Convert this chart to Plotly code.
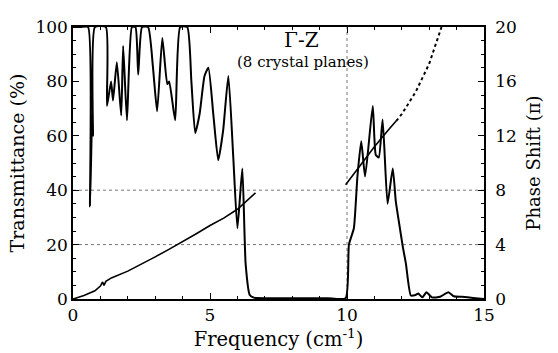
import plotly.graph_objects as go

# Transmittance (%) vs frequency (cm^-1)
freq = [0.0, 0.3, 0.55, 0.62, 0.70, 0.73, 0.80, 1.20, 1.24, 1.39, 1.46, 1.60, 1.76, 1.83,
        1.97, 2.15, 2.28, 2.38, 2.52, 2.74, 2.92, 3.07, 3.26, 3.44, 3.51, 3.73, 3.91, 4.17,
        4.32, 4.46, 4.62, 4.80, 4.94, 5.12, 5.30, 5.48, 5.67, 5.85, 6.00, 6.18, 6.30, 6.45,
        6.60, 7.50, 8.50, 9.30, 9.95, 10.07,
        10.25, 10.38, 10.52, 10.66, 10.94, 11.05, 11.16, 11.30, 11.48, 11.67, 11.78, 11.90,
        12.04, 12.15, 12.33, 12.50, 12.60, 12.75, 12.90, 13.10, 13.40, 13.70, 13.90, 14.20,
        14.60, 15.0]
trans = [100, 100, 100, 34, 68, 60, 100, 100, 71, 80, 73, 87, 67.5, 93,
         65.7, 100, 100, 82.5, 100, 100, 85, 69, 96, 79, 80, 65.7, 100, 100,
         80, 61, 68, 82, 85, 68, 51, 62, 82, 52, 26, 48, 13, 1.5,
         0.5, 0.3, 0.3, 0.3, 0.3, 20,
         26, 45, 58, 45, 71, 53, 52, 66, 35, 48, 36, 28,
         19, 13, 1.3, 1.5, 2, 0.6, 2.5, 0.6, 0.8, 2.5, 1, 0.8,
         0.4, 0]

# Phase shift (pi), lower branch
ph_freq1 = [0.0, 0.4, 0.8, 1.0, 1.08, 1.13, 1.2, 1.4, 2.0, 2.5, 3.0, 3.5, 4.0, 4.5, 5.0, 5.5, 6.0, 6.66]
phase1 = [0.0, 0.25, 0.6, 0.95, 1.25, 1.0, 1.3, 1.55, 2.05, 2.55, 3.1, 3.65, 4.2, 4.8, 5.4, 5.95, 6.6, 7.8]
# Phase shift (pi), upper branch (solid part, dotted part)
ph_freq2a = [9.95, 10.5, 11.0, 11.5, 11.8]
phase2a = [8.4, 9.85, 11.2, 12.4, 13.1]
ph_freq2b = [11.8, 12.0, 12.5, 13.0, 13.45]
phase2b = [13.1, 13.6, 15.2, 17.3, 20.0]

x_ticks = [0, 5, 10, 15]
y_ticks = [0, 20, 40, 60, 80, 100]
y2_ticks = [0, 4, 8, 12, 16, 20]

FONT = "DejaVu Serif"

fig = go.Figure()
fig.add_trace(go.Scatter(x=freq, y=trans, mode="lines",
                         line=dict(color="black", width=2, shape="spline", smoothing=0.5),
                         yaxis="y"))
fig.add_trace(go.Scatter(x=ph_freq1, y=phase1, mode="lines",
                         line=dict(color="black", width=1.6), yaxis="y2"))
fig.add_trace(go.Scatter(x=ph_freq2a, y=phase2a, mode="lines",
                         line=dict(color="black", width=1.6), yaxis="y2"))
fig.add_trace(go.Scatter(x=ph_freq2b, y=phase2b, mode="lines",
                         line=dict(color="black", width=2, dash="dot"), yaxis="y2"))

for yv in [20, 40]:
    fig.add_hline(y=yv, line=dict(color="#777", width=1, dash="dot"), layer="below")
fig.add_vline(x=10, line=dict(color="#777", width=1, dash="dot"), layer="below")

fig.add_annotation(x=0.555, y=0.953, xref="paper", yref="paper", yanchor="middle",
                   text="Γ-Z", showarrow=False,
                   font=dict(family=FONT, size=20, color="black"))
fig.add_annotation(x=0.56, y=0.87, xref="paper", yref="paper", yanchor="middle",
                   text="(8 crystal planes)",
                   showarrow=False, font=dict(family=FONT, size=15, color="black"))

axis_common = dict(showline=True, linecolor="black", linewidth=1.5, ticks="inside",
                   ticklen=6, tickcolor="black", showgrid=False, zeroline=False,
                   tickfont=dict(family=FONT, size=17, color="black"))

fig.update_layout(
    width=558, height=353,
    margin=dict(l=73, r=74, t=27, b=50),
    paper_bgcolor="white", plot_bgcolor="white",
    showlegend=False,
    font=dict(family=FONT, color="black"),
    xaxis=dict(range=[0, 15], tickvals=x_ticks, mirror="ticks",
               minor=dict(dtick=1, ticks="inside", ticklen=3, tickcolor="black"),
               title=dict(text="Frequency (cm<sup>-1</sup>)", font=dict(family=FONT, size=19.5, color="black"),
                          standoff=2),
               **axis_common),
    yaxis=dict(range=[0, 100], tickvals=y_ticks,
               minor=dict(dtick=5, ticks="inside", ticklen=3, tickcolor="black"),
               title=dict(text="Transmittance (%)", font=dict(family=FONT, size=19, color="black"),
                          standoff=6),
               **axis_common),
    yaxis2=dict(range=[0, 20], tickvals=y2_ticks, overlaying="y", side="right",
                ticklabelstandoff=6,
                minor=dict(dtick=1, ticks="inside", ticklen=3, tickcolor="black"),
                title=dict(text="Phase Shift (π)", font=dict(family=FONT, size=18, color="black"),
                           standoff=12),
                **axis_common),
)

fig.write_html("out.html")
